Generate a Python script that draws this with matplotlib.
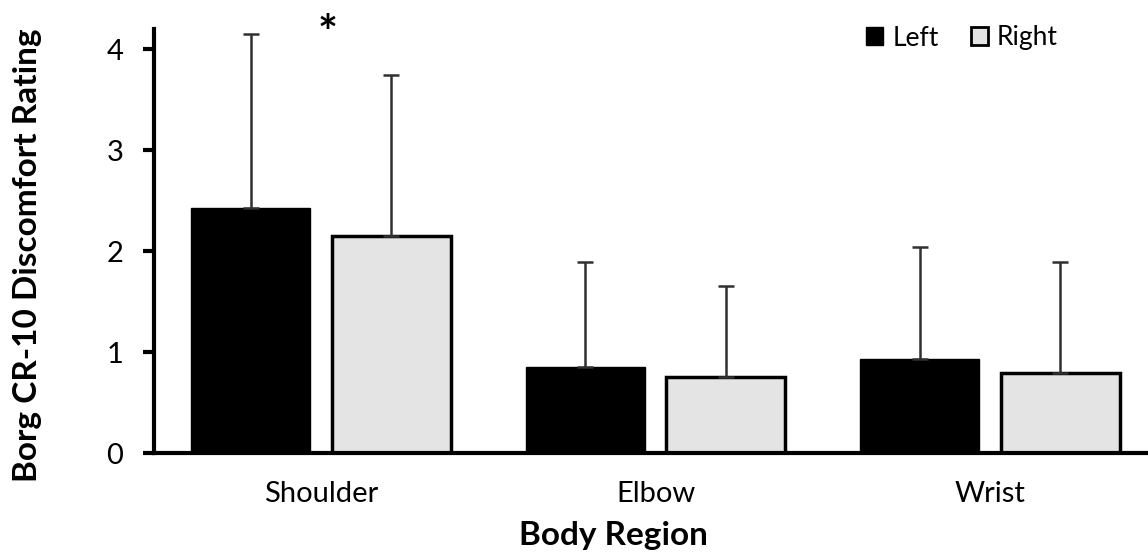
import matplotlib
matplotlib.use("Agg")
import matplotlib.pyplot as plt
import numpy as np
from matplotlib.patches import Patch

regions = ["Shoulder", "Elbow", "Wrist"]
left_mean = [2.43, 0.85, 0.93]
left_sd = [1.72, 1.04, 1.11]
right_mean = [2.15, 0.75, 0.79]
right_sd = [1.59, 0.90, 1.10]

plt.rcParams['font.family'] = ['Lato', 'DejaVu Sans']

W, H = 1148, 553
fig = plt.figure(figsize=(W / 100, H / 100), dpi=100)
# axes box placed in pixel terms: y-axis at x=154, baseline at y=453, top at y=29
ax = fig.add_axes([154 / W, (H - 453) / H, (1147 - 154) / W, (453 - 29) / H])

x = np.arange(len(regions))
width = 0.356
offset = 0.21

err_kw = dict(ecolor="#303030", elinewidth=1.8, capsize=6, capthick=1.8)
ax.bar(x - offset, left_mean, width, color="black", edgecolor="black",
       yerr=[np.zeros(len(x)), left_sd], error_kw=err_kw, label="Left", zorder=2)
ax.bar(x + offset, right_mean, width, color="#e4e4e4", edgecolor="black", linewidth=2.5,
       yerr=[np.zeros(len(x)), right_sd], error_kw=err_kw, label="Right", zorder=2)

ax.set_xlim(-0.5, 2.47)
ax.set_ylim(0, 4.2)
ax.set_yticks([0, 1, 2, 3, 4])
ax.set_xticks(x)
ax.set_xticklabels(regions)

for side in ["top", "right"]:
    ax.spines[side].set_visible(False)
ax.spines["left"].set_linewidth(3)
ax.spines["bottom"].set_linewidth(3)
ax.tick_params(axis="y", direction="out", length=8, width=3, labelsize=21, pad=14)
ax.tick_params(axis="x", length=0, labelsize=21, pad=20)

# significance marker between the shoulder bars
ax.text(0.02, 4.14, "*", ha="center", va="center", fontsize=34, fontweight="bold",
        clip_on=False)

fig.text(613 / W, 1 - 536 / H, "Body Region", ha="center", va="center",
         fontsize=24, fontweight="bold")
fig.text(28 / W, 1 - 255 / H, "Borg CR-10 Discomfort Rating", ha="center", va="center",
         rotation=90, fontsize=24, fontweight="bold")

handles = [Patch(facecolor="black", edgecolor="black", label="Left"),
           Patch(facecolor="#e4e4e4", edgecolor="black", linewidth=2, label="Right")]
fig.legend(handles=handles, loc="center", bbox_to_anchor=(962 / W, 1 - 38 / H), ncol=2,
           frameon=False, fontsize=19, handlelength=0.65, handleheight=0.65,
           handletextpad=0.35, columnspacing=1.2)

fig.savefig("out.png", dpi=100)
